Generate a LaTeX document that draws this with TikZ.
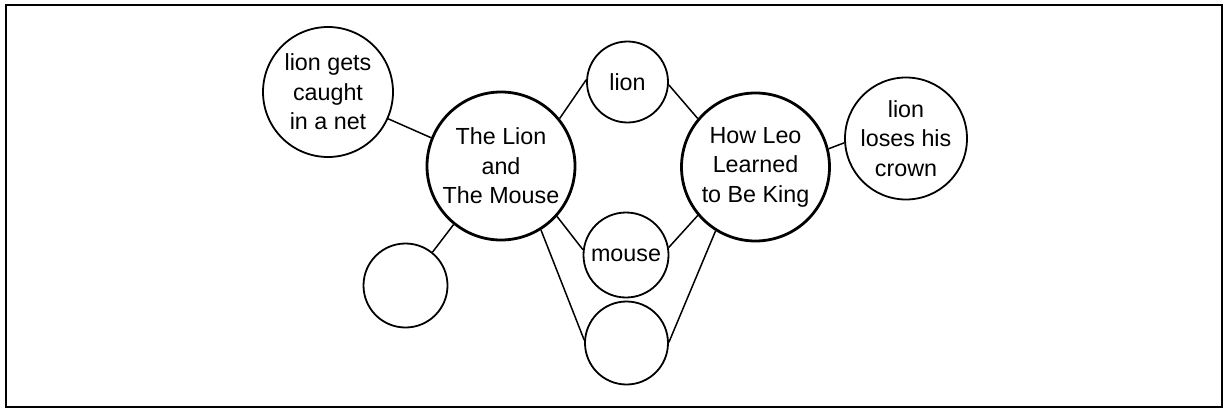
\documentclass[tikz,border=0pt]{standalone}
\usepackage{fontspec}
\setmainfont{Liberation Sans}
\begin{document}
\begin{tikzpicture}[x=1pt,y=-1pt,
  bub/.style={circle,draw,line width=1.8pt,inner sep=0pt,align=center,
    font=\fontsize{23.3}{29.5}\selectfont},
  bigbub/.style={bub,line width=2.8pt},
  link/.style={line width=1.5pt}]
\useasboundingbox (0,0) rectangle (1232,412);
\draw[line width=2.4pt] (6,5) rectangle (1222,407);
\node[bub,minimum size=130pt] (net) at (328,92) {lion gets\\caught\\in a net};
\node[bigbub,minimum size=148pt] (lm) at (501,166) {The Lion\\and\\The Mouse};
\node[bub,minimum size=81pt] (lion) at (627.5,82) {lion};
\node[bigbub,minimum size=148pt] (leo) at (755.5,167) {How Leo\\Learned\\to Be King};
\node[bub,minimum size=122pt] (crown) at (906,138.5) {lion\\loses his\\crown};
\node[bub,minimum size=85pt] (mouse) at (626,255) {mouse};
\node[bub,minimum size=83pt] (bot) at (626.5,343) {};
\node[bub,minimum size=84pt] (left) at (405.5,285.5) {};
\draw[link] (net.-24) -- (lm.158);
\draw[link] (lm.39) -- (lion.177);
\draw[link] (lion.-4) -- (leo.140);
\draw[link] (lm.-42) -- (mouse.173);
\draw[link] (lm.-58) -- (bot.176);
\draw[link] (leo.220) -- (mouse.10);
\draw[link] (leo.238) -- (bot.1);
\draw[link] (leo.14) -- (crown.184);
\draw[link] (lm.231) -- (left.51);
\end{tikzpicture}
\end{document}
